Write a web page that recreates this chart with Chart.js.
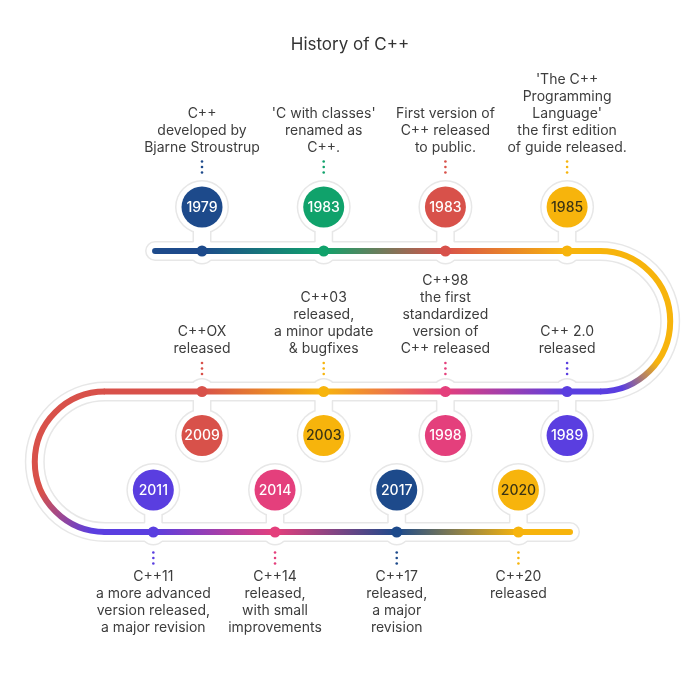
<!DOCTYPE html>
<html>
<head>
<meta charset="utf-8">
<script src="https://cdn.jsdelivr.net/npm/chart.js@4.4.1/dist/chart.umd.min.js"></script>
<style>
  html, body { margin: 0; padding: 0; background: #fff; }
  #wrap { width: 700px; height: 697px; }
</style>
</head>
<body>
<div id="wrap"><canvas id="timeline"></canvas></div>
<script>
// timeline data, in reading order along the snake
const years = ['1979', '1983', '1983', '1985', '1989', '1998', '2003', '2009', '2011', '2014', '2017', '2020'];
const notes = [
    ['C++', 'developed by', 'Bjarne Stroustrup'],
    ["'C with classes'", 'renamed as', 'C++.'],
    ['First version of', 'C++ released', 'to public.'],
    ["'The C++", 'Programming', "Language'", 'the first edition', 'of guide released.'],
    ['C++ 2.0', 'released'],
    ['C++98', 'the first', 'standardized', 'version of', 'C++ released'],
    ['C++03', 'released,', 'a minor update', '& bugfixes'],
    ['C++OX', 'released'],
    ['C++11', 'a more advanced', 'version released,', 'a major revision'],
    ['C++14', 'released,', 'with small', 'improvements'],
    ['C++17', 'released,', 'a major', 'revision'],
    ['C++20', 'released']
];
const rows = [0, 0, 0, 0, 1, 1, 1, 1, 2, 2, 2, 2];
const slots = [0, 1, 2, 3, 3, 2, 1, 0, -0.4, 0.6, 1.6, 2.6];

const NAVY = '#1d4a8b', GREEN = '#10a26b', RED = '#d8514a', YELLOW = '#f7b40c',
      PURPLE = '#5a3ee0', PINK = '#e43f7c';
const colors = [NAVY, GREEN, RED, YELLOW, PURPLE, PINK, YELLOW, RED, PURPLE, PINK, NAVY, YELLOW];

// where the track starts, turns and ends (in slot units)
const TRACK_START = -0.386;
const TRACK_END = 3.024;
const TURN_RIGHT = 3.27;
const TURN_LEFT = -0.797;

// per-row offsets in px from the track: badge centre, dotted stem centre, label anchor
const ROW_LAYOUT = [
    { badge: -44, stem: -84, label: -103, from: 'bottom' },
    { badge: 44, stem: -23, label: -43, from: 'bottom' },
    { badge: -42, stem: 26, label: 45, from: 'top' }
];

function isLight(hex) {
    const n = parseInt(hex.slice(1), 16);
    const r = n >> 16, g = (n >> 8) & 255, b = n & 255;
    return (0.299 * r + 0.587 * g + 0.114 * b) > 150;
}

const snakeTrack = {
    id: 'snakeTrack',
    beforeDatasetsDraw(chart) {
        const { ctx, scales: { x, y } } = chart;
        const rowY = [0, 1, 2].map(r => y.getPixelForValue(r));
        const rad = (rowY[1] - rowY[0]) / 2;
        const xs = x.getPixelForValue(TRACK_START), xe = x.getPixelForValue(TRACK_END);
        const xr = x.getPixelForValue(TURN_RIGHT), xl = x.getPixelForValue(TURN_LEFT);

        const path = () => {
            ctx.beginPath();
            ctx.moveTo(xs, rowY[0]);
            ctx.lineTo(xr, rowY[0]);
            ctx.arc(xr, rowY[0] + rad, rad, -Math.PI / 2, Math.PI / 2);
            ctx.lineTo(xl, rowY[1]);
            ctx.arc(xl, rowY[1] + rad, rad, -Math.PI / 2, Math.PI / 2, true);
            ctx.lineTo(xe, rowY[2]);
        };
        const pins = (grow) => {
            years.forEach((_, i) => {
                const px = x.getPixelForValue(slots[i]);
                const py = rowY[rows[i]];
                const by = py + ROW_LAYOUT[rows[i]].badge;
                ctx.beginPath();
                ctx.arc(px, by, 25.5 + grow, 0, Math.PI * 2);
                ctx.fill();
                ctx.beginPath();
                ctx.arc(px, py, 12 + grow, 0, Math.PI * 2);
                ctx.fill();
                ctx.fillRect(px - 8 - grow, Math.min(by, py), 16 + grow * 2, Math.abs(by - py));
            });
        };

        ctx.save();
        ctx.lineCap = 'round';
        ctx.lineJoin = 'round';
        // soft outline, then white band
        ctx.strokeStyle = ctx.fillStyle = '#e7e7e7';
        path(); ctx.lineWidth = 20; ctx.stroke();
        pins(1.5);
        ctx.strokeStyle = ctx.fillStyle = '#ffffff';
        path(); ctx.lineWidth = 17; ctx.stroke();
        pins(0);

        // coloured line, one gradient per straight row
        ctx.lineWidth = 6;
        const extents = [[xs, xr], [xl, xr], [xl, xe]];
        const endColor = [];
        extents.forEach(([a, b], r) => {
            const idx = years.map((_, i) => i).filter(i => rows[i] === r)
                .sort((p, q) => slots[p] - slots[q]);
            const g = ctx.createLinearGradient(a, 0, b, 0);
            g.addColorStop(0, colors[idx[0]]);
            idx.forEach(i => {
                const t = (x.getPixelForValue(slots[i]) - a) / (b - a);
                g.addColorStop(Math.min(1, Math.max(0, t)), colors[i]);
            });
            g.addColorStop(1, colors[idx[idx.length - 1]]);
            endColor.push([colors[idx[0]], colors[idx[idx.length - 1]]]);
            ctx.strokeStyle = g;
            ctx.beginPath();
            ctx.moveTo(a, rowY[r]);
            ctx.lineTo(b, rowY[r]);
            ctx.stroke();
        });

        ctx.lineCap = 'butt';
        // right turn: row 0 right colour -> row 1 right colour
        const cr = ctx.createConicGradient(Math.PI, xr, rowY[0] + rad);
        cr.addColorStop(0, endColor[0][1]);
        cr.addColorStop(0.6, endColor[0][1]);
        cr.addColorStop(0.7, endColor[1][1]);
        cr.addColorStop(1, endColor[1][1]);
        ctx.strokeStyle = cr;
        ctx.beginPath();
        ctx.arc(xr, rowY[0] + rad, rad, -Math.PI / 2, Math.PI / 2);
        ctx.stroke();
        // left turn: row 1 left colour -> row 2 left colour
        const cl = ctx.createConicGradient(0, xl, rowY[1] + rad);
        cl.addColorStop(0, endColor[2][0]);
        cl.addColorStop(0.28, endColor[2][0]);
        cl.addColorStop(0.43, endColor[1][0]);
        cl.addColorStop(1, endColor[1][0]);
        ctx.strokeStyle = cl;
        ctx.beginPath();
        ctx.arc(xl, rowY[1] + rad, rad, -Math.PI / 2, Math.PI / 2, true);
        ctx.stroke();
        ctx.restore();
    },
    afterDatasetsDraw(chart) {
        const { ctx, scales: { x, y } } = chart;
        ctx.save();
        ctx.textAlign = 'center';
        ctx.textBaseline = 'middle';
        years.forEach((year, i) => {
            const lay = ROW_LAYOUT[rows[i]];
            const px = x.getPixelForValue(slots[i]);
            const py = y.getPixelForValue(rows[i]);

            // badge
            ctx.fillStyle = colors[i];
            ctx.beginPath();
            ctx.arc(px, py + lay.badge, 20.5, 0, Math.PI * 2);
            ctx.fill();
            ctx.fillStyle = isLight(colors[i]) ? '#3b3414' : '#ffffff';
            ctx.font = '500 14px Inter, "Noto Sans", sans-serif';
            ctx.fillText(year, px, py + lay.badge + 0.5);

            // dotted stem
            ctx.fillStyle = colors[i];
            [-5.5, 0, 5.5].forEach(d => {
                ctx.beginPath();
                ctx.arc(px, py + lay.stem + d, 1.3, 0, Math.PI * 2);
                ctx.fill();
            });

            // description
            ctx.fillStyle = '#3d3d3d';
            ctx.font = '14px Inter, "Noto Sans", sans-serif';
            const lines = notes[i];
            lines.forEach((line, k) => {
                const off = lay.from === 'bottom' ? (k - lines.length + 1) * 17 : k * 17;
                ctx.fillText(line, px, py + lay.label + off);
            });
        });
        ctx.restore();
    }
};

const trackDots = years.map((_, i) => ({ x: slots[i], y: rows[i] }));

new Chart(document.getElementById('timeline'), {
    type: 'scatter',
    data: {
        datasets: [{
            data: trackDots,
            pointRadius: 5.5,
            pointBackgroundColor: colors,
            pointBorderWidth: 0
        }]
    },
    options: {
        responsive: true,
        maintainAspectRatio: false,
        animation: false,
        events: [],
        layout: { padding: 0, autoPadding: false },
        scales: {
            x: { type: 'linear', display: false, min: -1.66, max: 4.092 },
            y: { type: 'linear', display: false, reverse: true, min: -1.3922, max: 3.1744 }
        },
        plugins: {
            legend: { display: false },
            tooltip: { enabled: false },
            title: {
                display: true,
                text: 'History of C++',
                color: '#333333',
                font: { family: 'Inter, "Noto Sans", sans-serif', size: 17, weight: 'normal' },
                padding: { top: 35, bottom: 0 }
            }
        }
    },
    plugins: [snakeTrack]
});
</script>
</body>
</html>
